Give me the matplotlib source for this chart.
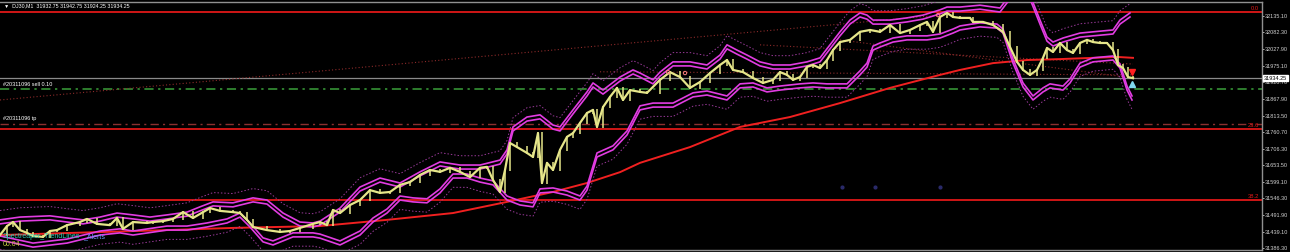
import numpy as np
import matplotlib
matplotlib.use("Agg")
import matplotlib.pyplot as plt

plt.rcParams['font.family'] = ['Liberation Sans', 'DejaVu Sans']

# price bars (bar position, close)
bar_x = [0, 7, 13, 20, 27, 33, 43, 50, 57, 67, 80, 87, 97, 110, 117, 123, 133, 147, 153, 163,
         173, 183, 193, 203, 210, 220, 233, 240, 247, 253, 267, 280, 290, 300, 313, 320, 327, 333,
         340, 350, 360, 370, 380, 390, 400, 410, 420, 430, 440, 450, 460, 470, 480, 487, 493, 500,
         505, 510, 517, 527, 533, 538, 542, 547, 553, 560, 567, 573, 580, 587, 593, 597, 603, 610,
         617, 623, 630, 640, 647, 660, 670, 680, 690, 700, 710, 720, 727, 733, 743, 753, 763, 773,
         780, 787, 793, 800, 807, 813, 820, 827, 833, 840, 850, 860, 870, 880, 890, 900, 910, 920,
         927, 933, 940, 947, 953, 960, 970, 973, 983, 993, 1003, 1010, 1017, 1023, 1030, 1037,
         1043, 1047, 1053, 1060, 1067, 1073, 1080, 1087, 1093, 1100, 1107, 1113, 1118, 1123, 1128,
         1133]
close = [31428, 31457, 31470, 31444, 31435, 31425, 31422, 31441, 31444, 31460, 31470, 31480,
         31464, 31460, 31483, 31448, 31470, 31467, 31470, 31473, 31480, 31502, 31483, 31502, 31515,
         31506, 31502, 31499, 31477, 31454, 31444, 31438, 31441, 31451, 31464, 31470, 31460, 31509,
         31499, 31525, 31541, 31573, 31564, 31567, 31590, 31599, 31622, 31638, 31632, 31645, 31632,
         31615, 31645, 31648, 31606, 31567, 31638, 31725, 31712, 31693, 31680, 31757, 31596, 31661,
         31638, 31703, 31745, 31757, 31790, 31822, 31832, 31777, 31841, 31874, 31903, 31864, 31896,
         31890, 31887, 31929, 31954, 31938, 31903, 31922, 31951, 31977, 31993, 31961, 31954, 31935,
         31919, 31929, 31954, 31945, 31929, 31938, 31971, 31977, 31967, 31993, 32025, 32051, 32058,
         32084, 32090, 32084, 32106, 32080, 32090, 32106, 32116, 32084, 32132, 32145, 32132, 32129,
         32129, 32116, 32116, 32106, 32084, 32035, 31987, 31961, 31945, 31961, 32000, 32032, 32019,
         32048, 32025, 32016, 32048, 32058, 32051, 32048, 32048, 32025, 31977, 31967, 31938,
         31934.25]

# spectral channel, upper edge
upper_x = [0, 20, 50, 67, 83, 100, 117, 133, 150, 167, 187, 200, 213, 233, 253, 267, 283, 300,
           313, 320, 340, 360, 380, 400, 420, 440, 460, 480, 500, 507, 513, 527, 540, 553, 560,
           573, 587, 593, 603, 620, 633, 640, 653, 660, 673, 690, 707, 720, 727, 737, 747, 760,
           773, 790, 807, 820, 830, 840, 850, 860, 867, 873, 890, 907, 923, 940, 947, 960, 980,
           1000, 1010, 1020, 1030, 1040, 1047, 1053, 1063, 1080, 1093, 1113, 1120, 1130]
upper = [31477, 31486, 31490, 31483, 31477, 31486, 31499, 31493, 31486, 31493, 31502, 31519,
         31535, 31532, 31548, 31541, 31499, 31470, 31467, 31473, 31515, 31583, 31612, 31596,
         31632, 31664, 31654, 31654, 31670, 31703, 31777, 31809, 31816, 31783, 31777, 31832,
         31890, 31919, 31896, 31938, 31961, 31951, 31929, 31954, 31987, 31987, 31977, 32009,
         32042, 32025, 32009, 31987, 31977, 31977, 31987, 32000, 32042, 32084, 32122, 32145,
         32138, 32122, 32122, 32129, 32138, 32155, 32164, 32164, 32170, 32161, 32203, 32225,
         32203, 32122, 32067, 32051, 32064, 32080, 32084, 32090, 32122, 32145]

# spectral channel, lower edge
lower_x = [0, 33, 67, 100, 120, 133, 167, 187, 207, 227, 240, 250, 263, 273, 293, 313, 320, 340,
           360, 373, 387, 400, 413, 427, 440, 453, 467, 480, 493, 507, 520, 533, 540, 553, 567,
           580, 587, 597, 613, 627, 640, 653, 673, 693, 707, 727, 740, 753, 767, 780, 800, 813,
           827, 847, 860, 867, 873, 880, 893, 907, 927, 940, 953, 960, 980, 997, 1003, 1013, 1023,
           1033, 1043, 1050, 1063, 1070, 1080, 1093, 1113, 1120, 1127, 1132]
lower = [31412, 31389, 31402, 31428, 31435, 31428, 31444, 31444, 31454, 31467, 31486, 31454,
         31406, 31396, 31422, 31422, 31418, 31396, 31428, 31470, 31499, 31541, 31535, 31532,
         31564, 31612, 31612, 31599, 31590, 31541, 31525, 31519, 31564, 31567, 31557, 31541,
         31573, 31680, 31703, 31751, 31832, 31841, 31841, 31874, 31880, 31864, 31903, 31906,
         31890, 31896, 31903, 31906, 31903, 31903, 31945, 31970, 32025, 32035, 32051, 32058,
         32058, 32064, 32080, 32090, 32100, 32096, 32080, 31983, 31906, 31864, 31890, 31903,
         31896, 31919, 31970, 31987, 31993, 31967, 31896, 31864]

# slow moving average
ma_x = [0, 167, 233, 320, 387, 453, 507, 553, 587, 620, 640, 690, 740, 790, 840, 890, 940, 960,
        993, 1027, 1060, 1093, 1117, 1133]
ma = [31428, 31444, 31451, 31457, 31477, 31499, 31535, 31567, 31596, 31631, 31661, 31712, 31777,
      31809, 31854, 31903, 31945, 31961, 31983, 31993, 31996, 32000, 32003, 32000]

# dotted trend lines: (x0, p0, x1, p1)
trend_lines = [(0, 31864, 940, 32138),
               (840, 32058, 1133, 31935),
               (760, 32042, 1133, 31980),
               (600, 31955, 1133, 31945)]

# fibonacci levels
fib_labels = ["0.0", "23.6", "38.2"]
fib_prices = [32146.5, 31770.3, 31541.2]

sell_price = 31899.5
tp_price = 31787.5
last_price = 31934.25
ticket = "#20311096"

axis_ticks = [32135.10, 32082.30, 32027.90, 31975.10, 31920.70, 31867.90, 31813.50, 31760.70,
              31706.30, 31653.50, 31599.10, 31546.30, 31491.90, 31439.10, 31386.30]

# small signal marks
dot_x = [668, 685, 938]
dot_p = [31954, 31951, 32138]
blue_x = [842, 875, 940]
blue_p = [31584, 31584, 31584]

W, H = 1290, 252
band_gap = 13
outer_gap = 30

fig = plt.figure(figsize=(W / 100, H / 100), dpi=100, facecolor="black")
ax = fig.add_axes([0, 2 / H, 1262 / W, 1 - 4 / H], facecolor="black")
ax.set_xlim(0, 1262)
ax.set_ylim(31379.7, 32180.3)

# horizontal levels
for lab, p in zip(fib_labels, fib_prices):
    ax.axhline(p, color="#e01818", lw=1.3, zorder=2)
    ax.text(1259, p + 4, lab, color="#e01818", fontsize=4.2, ha="right", va="bottom")
ax.axhline(last_price, color="#8a8a8a", lw=0.9, zorder=2)
ax.axhline(sell_price, color="#3aa03a", lw=1.1, ls=(0, (6, 3, 1.5, 3)), zorder=2)
ax.axhline(tp_price, color="#8a3030", lw=1.0, ls=(0, (6, 3, 1.5, 3)), zorder=2)
ax.text(3, sell_price + 8, ticket + " sell 0.10", color="white", fontsize=4, va="bottom")
ax.text(3, tp_price + 8, ticket + " tp", color="white", fontsize=4, va="bottom")

# trend lines
for x0, p0, x1, p1 in trend_lines:
    ax.plot([x0, x1], [p0, p1], color="#8c2a2a", lw=0.8, ls=(0, (1, 2)), zorder=2)

# moving average
ax.plot(ma_x, ma, color="#f02020", lw=1.4, zorder=3)

# channel
ux = np.array(upper_x)
up = np.array(upper, dtype=float)
lx = np.array(lower_x)
lo = np.array(lower, dtype=float)
ax.plot(ux, up + outer_gap, color="#9a3a9a", lw=0.7, ls=(0, (1.5, 2)), zorder=3)
ax.plot(lx, lo - outer_gap, color="#9a3a9a", lw=0.7, ls=(0, (1.5, 2)), zorder=3)
for yy, xx in [(up, ux), (up - band_gap, ux), (lo, lx), (lo + band_gap, lx)]:
    ax.plot(xx, yy, color="#e23ce2", lw=1.2, zorder=4)

# price bars
bx = np.array(bar_x)
c = np.array(close, dtype=float)
ax.vlines(bx[1:], np.minimum(c[:-1], c[1:]) - 3, np.maximum(c[:-1], c[1:]) + 3,
          color="#e6e68a", lw=1.1, zorder=5)
ax.plot(bx, c, color="#e6e68a", lw=1.6, zorder=5)

# marks
ax.scatter(dot_x, dot_p, s=6, facecolor="none", edgecolor="#ff8080", lw=0.7, zorder=6)
ax.scatter(blue_x, blue_p, s=4, color="#2a2a6a", zorder=2)
ax.plot([1132], [31953], marker="v", color="#ff2020", ms=4, zorder=7)
ax.plot([1132], [31917], marker="^", color="#80d8f0", ms=4, zorder=7)

# axis
ax.yaxis.tick_right()
ax.set_yticks(axis_ticks)
ax.set_yticklabels([f"{t:.2f}" for t in axis_ticks])
ax.tick_params(axis="y", colors="#d0d0d0", labelsize=4, length=1.5, width=0.6, pad=0.8)
ax.set_xticks([])
for s in ["top", "bottom", "right"]:
    ax.spines[s].set_color("#909090")
    ax.spines[s].set_linewidth(1)
ax.spines["left"].set_visible(False)
ax.text(1.0015, last_price, f"{last_price:.2f}", transform=ax.get_yaxis_transform(),
        fontsize=4, color="black", va="center", ha="left",
        bbox=dict(boxstyle="square,pad=0.12", fc="white", ec="white"), zorder=8)

# header and indicator name
fig.text(4 / W, 1 - 6 / H, "▼  DJ30,M1  31932.75 31942.75 31924.25 31934.25",
         color="white", fontsize=3.8, va="center")
name = fig.text(3 / W, 1 - 237 / H, "Spectreaper_TrendLines", color="#2ed0b8",
                fontsize=5, va="center", zorder=10)
ax.annotate("_Alerts", xy=(1, 0.5), xycoords=name, xytext=(2, 0),
            textcoords="offset points", color="#6a9cff", fontsize=5, va="center",
            annotation_clip=False, zorder=10)
fig.text(3 / W, 1 - 245 / H, "00:04", color="#c8d040", fontsize=5, va="center", zorder=10)

fig.savefig("out.png", dpi=100, facecolor="black")
